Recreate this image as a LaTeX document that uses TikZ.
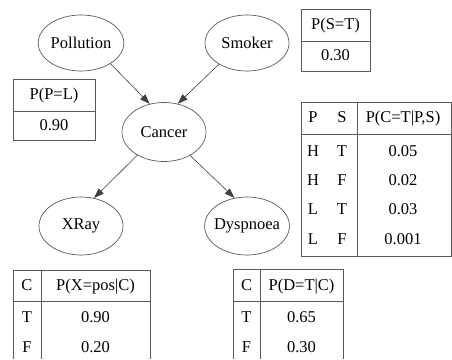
\documentclass[tikz,border=0pt]{standalone}
\usepackage{fontspec}
\setmainfont{Liberation Serif}
\usetikzlibrary{shapes.geometric,arrows.meta}
\begin{document}
\begin{tikzpicture}[x=1pt,y=-1pt,
  var/.style={ellipse,draw=black!65,line width=0.7pt,minimum width=84pt,minimum height=56pt,inner sep=0pt,font=\fontsize{16.5}{19}\selectfont},
  edge/.style={draw=black!75,line width=0.6pt,-{Triangle[length=10pt,width=7pt]}},
  grid/.style={draw=black!65,line width=0.7pt},
  cell/.style={inner sep=0pt,font=\fontsize{16.5}{19}\selectfont,anchor=center,text height=11.5pt,text depth=3.5pt}]
\useasboundingbox (0,0) rectangle (452,359);
% variables
\node[var] (pol) at (81,43) {Pollution};
\node[var] (smk) at (247,43) {Smoker};
\node[var,minimum height=59pt] (can) at (164,132) {Cancer};
\node[var,minimum height=58pt] (xry) at (81,226) {XRay};
\node[var,minimum height=58pt] (dys) at (247,226) {\hspace*{-3pt}Dyspnoea\hspace*{-3pt}};
% edges
\draw[edge] (pol.-35) -- (can.117);
\draw[edge] (smk.217) -- (can.64);
\draw[edge] (can.221) -- (xry.65);
\draw[edge] (can.-42) -- (dys.114);
% P(P=L)
\draw[grid] (13,79) rectangle (95,140);
\draw[grid] (13,111) -- (95,111);
\node[cell] (pl1) at (54,95.5) {P(P=L)};
\node[cell] (pl2) at (54,126) {0.90};
% P(S=T)
\draw[grid] (301,9) rectangle (370,71);
\draw[grid] (301,41) -- (370,41);
\node[cell] (st1) at (335.5,25.5) {P(S=T)};
\node[cell] (st2) at (335.5,56.5) {0.30};
% P(C=T|P,S)
\draw[grid] (301,102) rectangle (451,256);
\draw[grid] (301,134) -- (451,134);
\draw[grid] (357,102) -- (357,256);
\node[cell] (ch1) at (313,118.5) {P};
\node[cell] (ch2) at (342,118.5) {S};
\node[cell] (ch3) at (403,118.5) {P(C=T|P,S)};
\node[cell] (c11) at (313,152) {H};
\node[cell] (c12) at (342,152) {T};
\node[cell] (c13) at (403,152) {0.05};
\node[cell] (c21) at (313,181) {H};
\node[cell] (c22) at (342,181) {F};
\node[cell] (c23) at (403,181) {0.02};
\node[cell] (c31) at (313,210.5) {L};
\node[cell] (c32) at (342,210.5) {T};
\node[cell] (c33) at (403,210.5) {0.03};
\node[cell] (c41) at (313,240) {L};
\node[cell] (c42) at (342,240) {F};
\node[cell] (c43) at (403,240) {0.001};
% P(X=pos|C)
\draw[grid] (13,359) -- (13,270) -- (150,270) -- (150,359);
\draw[grid] (13,301) -- (150,301);
\draw[grid] (41,270) -- (41,359);
\node[cell] (x01) at (27,286) {C};
\node[cell] (x02) at (95.5,286) {P(X=pos|C)};
\node[cell] (x11) at (27,318) {T};
\node[cell] (x12) at (95.5,318) {0.90};
\node[cell] (x21) at (27,348) {F};
\node[cell] (x22) at (95.5,348) {0.20};
% P(D=T|C)
\draw[grid] (233,359) -- (233,269) -- (343,269) -- (343,359);
\draw[grid] (233,301) -- (343,301);
\draw[grid] (260,269) -- (260,359);
\node[cell] (d01) at (246.5,286) {C};
\node[cell] (d02) at (301.5,286) {P(D=T|C)};
\node[cell] (d11) at (246.5,318) {T};
\node[cell] (d12) at (301.5,318) {0.65};
\node[cell] (d21) at (246.5,348) {F};
\node[cell] (d22) at (301.5,348) {0.30};
\end{tikzpicture}
\end{document}
